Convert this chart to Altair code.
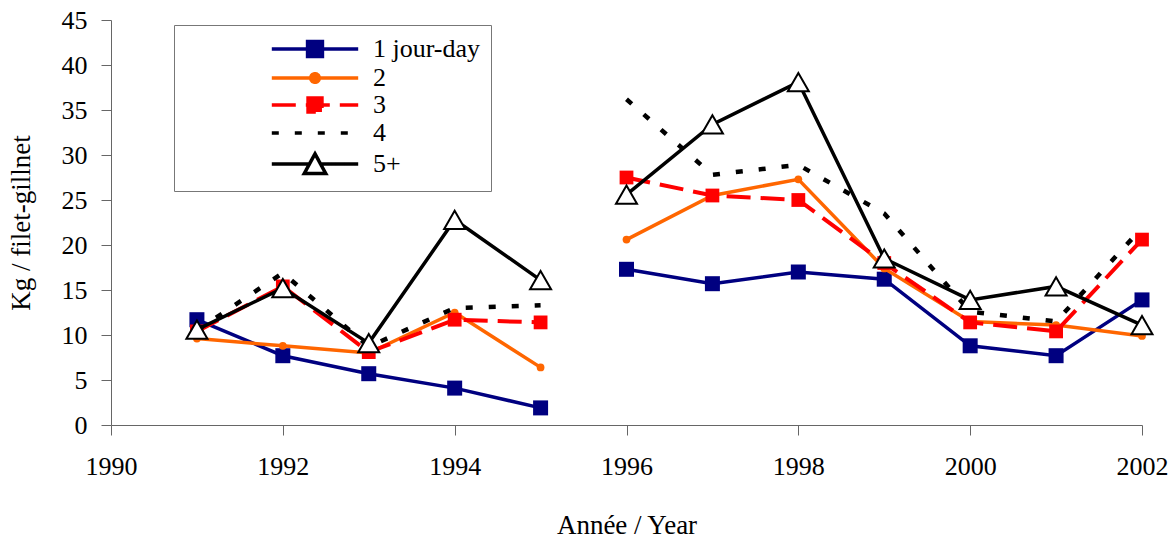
import altair as alt
import pandas as pd

years = [1991, 1992, 1993, 1994, 1995, 1996, 1997, 1998, 1999, 2000, 2001, 2002]
series_names = ["1 jour-day", "2", "3", "4", "5+"]
s1 = [11.7, 7.7, 5.7, 4.1, 1.9, 17.3, 15.7, 17.0, 16.2, 8.8, 7.7, 13.9]
s2 = [9.6, 8.8, 8.0, 12.5, 6.4, 20.6, 25.5, 27.3, 17.4, 11.5, 11.1, 9.9]
s3 = [10.4, 15.4, 8.1, 11.7, 11.4, 27.5, 25.5, 25.0, 18.0, 11.4, 10.4, 20.6]
s4 = [10.5, 16.9, 8.7, 13.0, 13.3, 36.2, 27.8, 28.9, 23.5, 12.6, 11.5, 21.9]
s5 = [10.6, 15.2, 9.1, 22.8, 16.1, 25.6, 33.4, 38.1, 18.5, 13.9, 15.4, 11.1]
x_ticks = [1990, 1992, 1994, 1996, 1998, 2000, 2002]
y_ticks = [0, 5, 10, 15, 20, 25, 30, 35, 40, 45]

NAVY = "#000080"
ORANGE = "#FF6600"
RED = "#FF0000"
BLACK = "#000000"
FONT = "Liberation Serif"

rows = []
for name, vals in zip(series_names, [s1, s2, s3, s4, s5]):
    for yr, v in zip(years, vals):
        rows.append({"year": yr, "value": v, "series": name,
                     "period": "a" if yr <= 1995 else "b"})
df = pd.DataFrame(rows)

x_enc = alt.X("year:Q",
              scale=alt.Scale(domain=[1990, 2002], nice=False, zero=False),
              axis=alt.Axis(values=x_ticks, format="d", title="Année / Year",
                            grid=False, tickSize=10, labelPadding=18,
                            labelFont=FONT, labelFontSize=26, labelColor="black",
                            titleFont=FONT, titleFontSize=27, titleFontWeight="normal",
                            titleColor="black", titleBaseline="alphabetic", titleY=108,
                            domainColor="#666666", tickColor="#666666",
                            labelFlush=False))
y_enc = alt.Y("value:Q",
              scale=alt.Scale(domain=[0, 45], nice=False),
              axis=alt.Axis(values=y_ticks, title="Kg / filet-gillnet",
                            grid=False, tickSize=10, labelPadding=14,
                            labelFont=FONT, labelFontSize=26, labelColor="black",
                            titleFont=FONT, titleFontSize=27, titleFontWeight="normal",
                            titleColor="black", titleX=-76,
                            domainColor="#666666", tickColor="#666666"))


def sel(name):
    return alt.Chart(df).transform_filter(alt.datum.series == name)


layers = []
# series 1
layers.append(sel("1 jour-day").mark_line(color=NAVY, strokeWidth=3.5).encode(x=x_enc, y=y_enc, detail="period:N"))
layers.append(sel("1 jour-day").mark_point(shape="square", size=225, filled=True, color=NAVY, opacity=1).encode(x=x_enc, y=y_enc))
# series 2
layers.append(sel("2").mark_line(color=ORANGE, strokeWidth=3.5).encode(x=x_enc, y=y_enc, detail="period:N"))
layers.append(sel("2").mark_point(shape="circle", size=60, filled=True, color=ORANGE, opacity=1).encode(x=x_enc, y=y_enc))
# series 3
layers.append(sel("3").mark_line(color=RED, strokeWidth=4, strokeDash=[24, 10]).encode(x=x_enc, y=y_enc, detail="period:N"))
layers.append(sel("3").mark_point(shape="square", size=190, filled=True, color=RED, opacity=1).encode(x=x_enc, y=y_enc))
# series 4
layers.append(sel("4").mark_line(color=BLACK, strokeWidth=4.5, strokeDash=[7, 16]).encode(x=x_enc, y=y_enc, detail="period:N"))
# series 5+
layers.append(sel("5+").mark_line(color=BLACK, strokeWidth=3.5).encode(x=x_enc, y=y_enc, detail="period:N"))
layers.append(sel("5+").mark_point(shape="triangle-up", size=441, filled=True, fill="white",
                                   stroke=BLACK, strokeWidth=2, opacity=1).encode(x=x_enc, y=y_enc))

# legend layer (no marks drawn, only the legend)
line_path = "M-3.6,0H3.6"
legend_shapes = [
    line_path + "M-0.62,-0.62H0.62V0.62H-0.62Z",
    line_path + "M-0.36,0A0.36,0.36,0,1,1,0.36,0A0.36,0.36,0,1,1,-0.36,0Z",
    line_path + "M-0.58,-0.58H0.58V0.58H-0.58Z",
    line_path,
    "M-3.6,0H-0.46M0.46,0H3.6M-0.9,0.8L0,-0.85L0.9,0.8Z",
]
legend_fills = [NAVY, ORANGE, RED, BLACK, "white"]
legend_strokes = [NAVY, ORANGE, RED, BLACK, BLACK]
legend_dashes = [[1, 0], [1, 0], [24, 10], [7, 16], [1, 0]]

leg = alt.Legend(title=None, orient="none", legendX=63, legendY=5, padding=10,
                 strokeColor="#777777", fillColor="white",
                 symbolSize=576, symbolStrokeWidth=3.5, symbolOffset=117,
                 labelOffset=44, labelFont=FONT, labelFontSize=26, labelColor="black",
                 labelLimit=400, rowPadding=0)

legend_layer = alt.Chart(df).transform_filter("false").mark_point(
    size=576, filled=True, strokeWidth=3, opacity=1
).encode(
    x=x_enc, y=y_enc,
    shape=alt.Shape("series:N", scale=alt.Scale(domain=series_names, range=legend_shapes), legend=leg),
    fill=alt.Fill("series:N", scale=alt.Scale(domain=series_names, range=legend_fills), legend=leg),
    stroke=alt.Stroke("series:N", scale=alt.Scale(domain=series_names, range=legend_strokes), legend=leg),
    strokeDash=alt.StrokeDash("series:N", scale=alt.Scale(domain=series_names, range=legend_dashes), legend=leg),
)
layers.append(legend_layer)

chart = alt.layer(*layers).properties(
    width=1031, height=405,
    autosize=alt.AutoSizeParams(type="none"),
    padding={"left": 111, "top": 20, "right": 31, "bottom": 115},
    background="white",
).configure_view(stroke=None)

chart.save("out.html", embed_options={"renderer": "svg", "actions": False})
